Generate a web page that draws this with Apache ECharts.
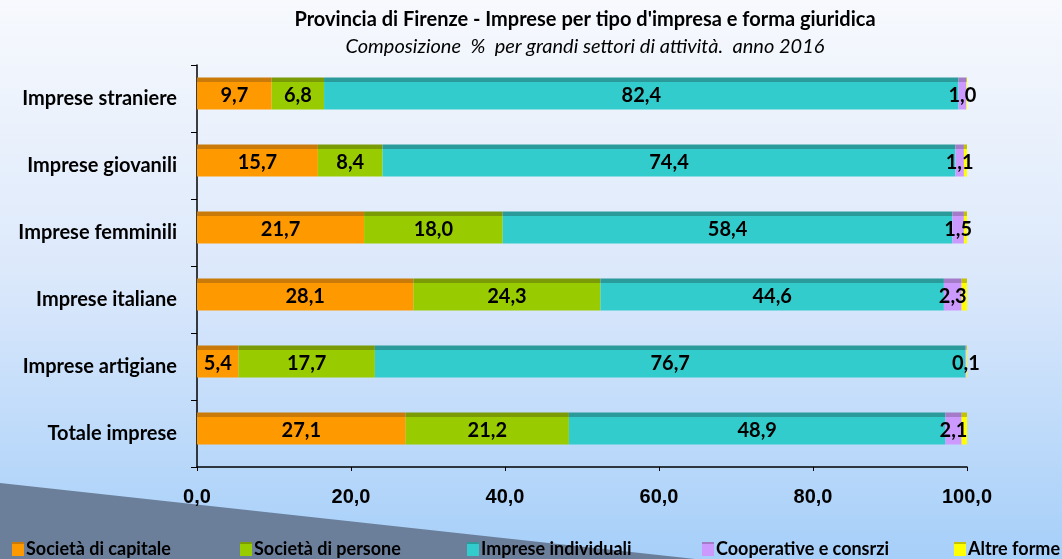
<!DOCTYPE html>
<html>
<head>
<meta charset="utf-8">
<script src="https://cdn.jsdelivr.net/npm/echarts@6/dist/echarts.min.js"></script>
<style>
  html, body { margin: 0; padding: 0; }
  #chart { width: 1062px; height: 559px; }
</style>
</head>
<body>
<div id="chart"></div>
<script>
// categories, bottom to top
const categories = ['Totale imprese', 'Imprese artigiane', 'Imprese italiane', 'Imprese femminili', 'Imprese giovanili', 'Imprese straniere']
const capitale = [27.1, 5.4, 28.1, 21.7, 15.7, 9.7]
const persone = [21.2, 17.7, 24.3, 18.0, 8.4, 6.8]
const individuali = [48.9, 76.7, 44.6, 58.4, 74.4, 82.4]
const cooperative = [2.1, 0.1, 2.3, 1.5, 1.1, 1.0]
const altre = [0.7, 0.1, 0.7, 0.4, 0.4, 0.1]
const xTicks = [0, 20, 40, 60, 80, 100]

const fmt = v => v.toFixed(1).replace('.', ',')

// bar with a darker top strip, like the 3d top face
function face (main, top) {
  return {
    type: 'linear', x: 0, y: 0, x2: 0, y2: 1,
    colorStops: [
      { offset: 0, color: top },
      { offset: 0.13, color: top },
      { offset: 0.13, color: main },
      { offset: 1, color: main }
    ]
  }
}

function bar (name, data, main, top, showLabel) {
  return {
    name: name,
    type: 'bar',
    stack: 'tot',
    barWidth: 32,
    barGap: '0%',
    data: data,
    itemStyle: { color: face(main, top) },
    label: {
      show: showLabel,
      position: 'inside',
      offset: [0, 2],
      color: '#000',
      fontFamily: 'Lato',
      fontWeight: 'bold',
      fontSize: 20,
      formatter: p => fmt(p.value)
    }
  }
}

const names = ['Società di capitale', 'Società di persone', 'Imprese individuali', 'Cooperative e consrzi', 'Altre forme']
const legendLeft = [7, 235, 462, 697, 949]

const chart = echarts.init(document.getElementById('chart'))
chart.setOption({
  backgroundColor: {
    type: 'linear', x: 0, y: 0, x2: 0, y2: 1,
    colorStops: [
      { offset: 0, color: '#f7f9fd' },
      { offset: 0.5, color: '#dbe8fb' },
      { offset: 1, color: '#a6cff9' }
    ]
  },
  graphic: [{
    type: 'polygon',
    z: -1,
    shape: { points: [[0, 483], [695, 559], [0, 559]] },
    style: { fill: '#6b7f9b' }
  }],
  title: {
    text: "Provincia di Firenze - Imprese per tipo d'impresa e forma giuridica",
    subtext: 'Composizione  %  per grandi settori di attività.  anno 2016',
    left: 580,
    textAlign: 'center',
    top: 5,
    itemGap: 7,
    textStyle: { fontFamily: 'Lato', fontWeight: 'bold', fontSize: 20, color: '#000' },
    subtextStyle: { fontFamily: 'Lato', fontStyle: 'italic', fontSize: 20, color: '#000' }
  },
  legend: names.map((n, i) => ({
    data: [n],
    left: legendLeft[i],
    top: 535,
    itemWidth: 12,
    itemHeight: 14,
    itemGap: 0,
    icon: 'rect',
    textStyle: { fontFamily: 'Lato', fontWeight: 'bold', fontSize: 18, color: '#000', padding: [0, 0, 0, -3] }
  })),
  grid: { left: 197, right: 95, top: 65, bottom: 92 },
  xAxis: {
    type: 'value',
    min: 0,
    max: 100,
    interval: 20,
    splitLine: { show: false },
    axisLine: { show: true, lineStyle: { color: '#000', width: 1.5 } },
    axisTick: { show: true, length: 4, lineStyle: { color: '#000' } },
    axisLabel: {
      margin: 20,
      color: '#000',
      fontFamily: 'Liberation Sans',
      fontWeight: 'bold',
      fontSize: 20,
      formatter: v => xTicks.includes(v) ? fmt(v) : ''
    }
  },
  yAxis: {
    type: 'category',
    data: categories,
    axisLine: { show: true, lineStyle: { color: '#000', width: 1.5 } },
    axisTick: { show: true, length: 6, lineStyle: { color: '#000' } },
    axisLabel: {
      margin: 20,
      color: '#000',
      fontFamily: 'Lato',
      fontWeight: 'bold',
      fontSize: 20
    }
  },
  series: [
    bar(names[0], capitale, '#ff9900', '#c97a08', true),
    bar(names[1], persone, '#99cc00', '#7a9a06', true),
    bar(names[2], individuali, '#33cccc', '#2a9a9a', true),
    bar(names[3], cooperative, '#cc99ff', '#a37bc9', true),
    bar(names[4], altre, '#ffff00', '#c2c200', false),
    // empty spacer stack: only nudges the real bars up inside each band
    { name: 'spacer', type: 'bar', stack: 'spacer', barWidth: 10, barGap: '0%', data: categories.map(() => 0), silent: true, itemStyle: { color: 'transparent' } }
  ]
})
</script>
</body>
</html>
